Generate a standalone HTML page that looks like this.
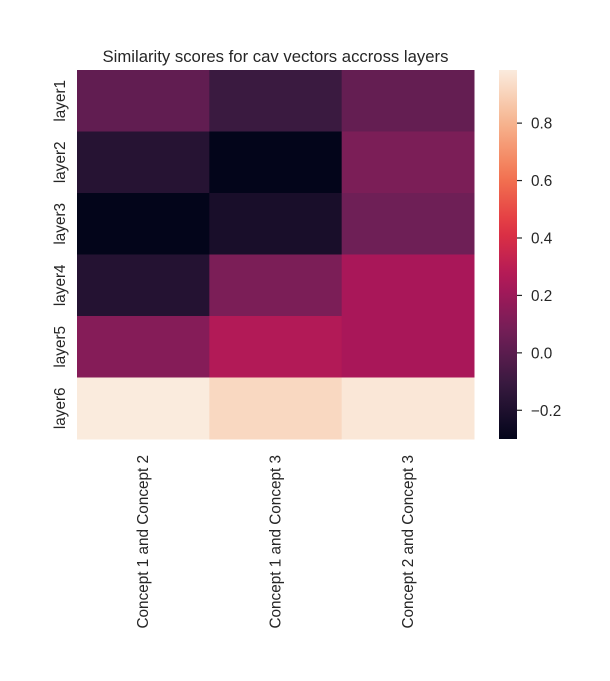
<!DOCTYPE html>
<html><head><meta charset="utf-8"><style>
body{margin:0;background:#fff;}
svg text{font-family:"Liberation Sans",sans-serif;fill:#262626;}
</style></head><body>
<svg width="610" height="676" viewBox="0 0 610 676">
<rect width="610" height="676" fill="#fff"/>
<text x="275.5" y="62" font-size="16.7" text-anchor="middle">Similarity scores for cav vectors accross layers</text>
<g id="cells"></g>
<g id="rowlabels"></g>
<g id="collabels"></g>
<defs><linearGradient id="cbgrad" x1="0" y1="1" x2="0" y2="0"></linearGradient></defs>
<rect x="499" y="70" width="18" height="369" fill="url(#cbgrad)"/>
<g id="cbticks"></g>
</svg>
<script>
const rows = ["layer1","layer2","layer3","layer4","layer5","layer6"];
const cols = ["Concept 1 and Concept 2","Concept 1 and Concept 3","Concept 2 and Concept 3"];
const values = [
  [0.02,-0.10,0.03],
  [-0.17,-0.30,0.10],
  [-0.30,-0.22,0.06],
  [-0.18,0.10,0.24],
  [0.13,0.27,0.24],
  [0.985,0.92,0.97]
];
const cbTicks = [-0.2,0,0.2,0.4,0.6,0.8];
const cbTickLabels = ["\u22120.2","0.0","0.2","0.4","0.6","0.8"];
const vmin=-0.30, vmax=0.985;
const stops=[[0,[3,5,26]],[0.143,[53,25,62]],[0.286,[112,31,87]],[0.429,[173,23,89]],[0.571,[225,51,66]],[0.714,[243,118,81]],[0.857,[246,180,143]],[1,[250,235,221]]];
function cmap(t){t=Math.max(0,Math.min(1,t));for(let i=1;i<stops.length;i++){if(t<=stops[i][0]){const a=stops[i-1],b=stops[i];const f=(t-a[0])/(b[0]-a[0]);const c=a[1].map((v,k)=>Math.round(v+(b[1][k]-v)*f));return `rgb(${c})`;}}return 'rgb(250,235,221)';}
const X0=77,X1=474,Y0=70,Y1=439;
const cw=(X1-X0)/cols.length, rh=(Y1-Y0)/rows.length;
const xPos=j=>X0+j*cw, yPos=i=>Y0+i*rh;
const ns="http://www.w3.org/2000/svg";
const cells=document.getElementById('cells');
values.forEach((r,i)=>r.forEach((v,j)=>{
  const el=document.createElementNS(ns,'rect');
  el.setAttribute('x',xPos(j));el.setAttribute('y',yPos(i));
  el.setAttribute('width',cw+0.5);el.setAttribute('height',rh+0.5);
  el.setAttribute('fill',cmap((v-vmin)/(vmax-vmin)));
  
  
  cells.appendChild(el);
}));
const rl=document.getElementById('rowlabels');
rows.forEach((n,i)=>{
  const cy=yPos(i)+rh/2;
  const t=document.createElementNS(ns,'text');
  t.setAttribute('x',65);t.setAttribute('y',cy);
  t.setAttribute('font-size','15.3');t.setAttribute('text-anchor','middle');
  t.setAttribute('transform',`rotate(-90 65 ${cy})`);
  t.textContent=n;
  
  
  rl.appendChild(t);
});
const cl=document.getElementById('collabels');
cols.forEach((n,j)=>{
  const cx=xPos(j)+cw/2+5;
  const t=document.createElementNS(ns,'text');
  t.setAttribute('x',cx);t.setAttribute('y',455);
  t.setAttribute('font-size','15.3');t.setAttribute('text-anchor','end');
  t.setAttribute('transform',`rotate(-90 ${cx} 455)`);
  t.textContent=n;
  
  
  cl.appendChild(t);
});
const g=document.getElementById('cbgrad');
for(let k=0;k<=20;k++){const s=document.createElementNS(ns,'stop');s.setAttribute('offset',k/20);s.setAttribute('stop-color',cmap(k/20));g.appendChild(s);}
const cbY=v=>Y1-(v-vmin)/(vmax-vmin)*(Y1-Y0);
const cbt=document.getElementById('cbticks');
cbTicks.forEach((v,k)=>{
  const y=cbY(v);
  const l=document.createElementNS(ns,'line');
  l.setAttribute('x1',517);l.setAttribute('x2',522);l.setAttribute('y1',y);l.setAttribute('y2',y);
  l.setAttribute('stroke','#262626');l.setAttribute('stroke-width','1.2');
  
  
  cbt.appendChild(l);
  const t=document.createElementNS(ns,'text');
  t.setAttribute('x',531);t.setAttribute('y',y+5.5);t.setAttribute('font-size','15.3');
  t.textContent=cbTickLabels[k];
  
  
  cbt.appendChild(t);
});
</script>
</body></html>
